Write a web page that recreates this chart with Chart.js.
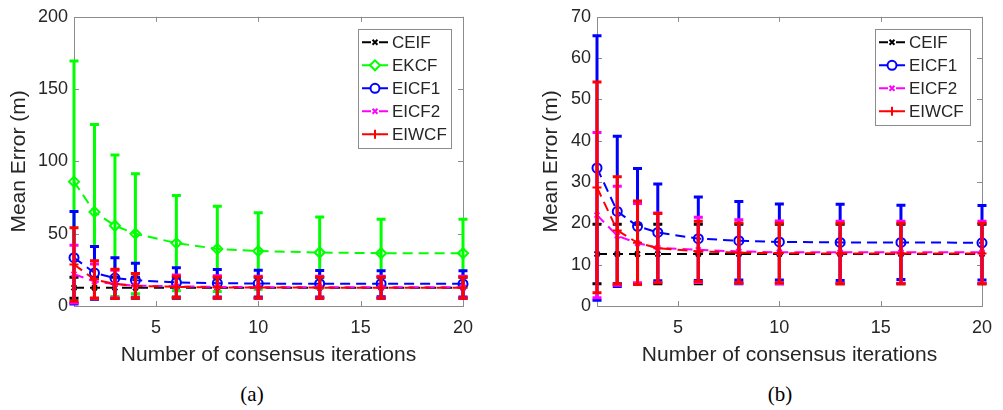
<!DOCTYPE html>
<html>
<head>
<meta charset="utf-8">
<script src="https://cdn.jsdelivr.net/npm/chart.js@4.4.0/dist/chart.umd.min.js"></script>
<style>
  html, body { margin: 0; padding: 0; background: #fff; }
  body { width: 1003px; height: 410px; position: relative; overflow: hidden; }
  .panel { position: absolute; top: 0; height: 375px; }
  #panel-a { left: 0; width: 500px; }
  #panel-b { left: 500px; width: 503px; }
  .caption {
    position: absolute; top: 382px; transform: translateX(-50%);
    font: 21px 'Liberation Serif', 'Times New Roman', serif; color: #000;
  }
</style>
</head>
<body>
<div class="panel" id="panel-a"><canvas id="chart-a"></canvas></div>
<div class="panel" id="panel-b"><canvas id="chart-b"></canvas></div>
<div class="caption" style="left:252px">(a)</div>
<div class="caption" style="left:780px">(b)</div>
<script>
const iterations = [1, 2, 3, 4, 6, 8, 10, 13, 16, 20];
const xTicks = [5, 10, 15, 20];
const yTicksA = [0, 50, 100, 150, 200];
const yTicksB = [0, 10, 20, 30, 40, 50, 60, 70];

// mean error and error-bar half length, per method
const ceifMean = [12.6, 12.6, 12.6, 12.6, 12.6, 12.6, 12.6, 12.6, 12.6, 12.6];
const ceifErr = [7.2, 7.2, 7.2, 7.2, 7.2, 7.2, 7.2, 7.2, 7.2, 7.2];
const ekcfMean = [86, 65, 55.5, 50, 43.5, 39.5, 38, 37, 36.5, 36.5];
const ekcfErr = [83.5, 60.5, 49, 41.5, 33, 29.5, 26.5, 24.5, 23.5, 23.5];
const eicf1Mean = [33.4, 22.9, 19.3, 17.8, 16.3, 15.8, 15.5, 15.4, 15.4, 15.3];
const eicf1Err = [32, 18.2, 14, 11.7, 10.1, 9.5, 9.2, 9.2, 9.0, 9.0];
const eicf2Mean = [22, 17, 15.2, 14.1, 13.6, 13.2, 13.0, 13.0, 13.0, 13.0];
const eicf2Err = [20, 12, 9.6, 8.4, 7.9, 7.7, 7.6, 7.5, 7.5, 7.5];
const eiwcfMean = [28.7, 18.3, 15.3, 14.0, 13.2, 12.9, 12.8, 12.7, 12.7, 12.7];
const eiwcfErr = [25.5, 13, 10.1, 8.4, 7.3, 7.2, 7.2, 7.3, 7.3, 7.3];

const FONT = "'Liberation Sans', Arial, sans-serif";
const TEXT = '#262626';
const FRAME = '#8c8c8c';

const STYLE = {
  CEIF: { color: '#000000', marker: 'crossRot', radius: 3.5 },
  EKCF: { color: '#00ff00', marker: 'rectRot', radius: 5 },
  EICF1: { color: '#0000ff', marker: 'circle', radius: 4.5 },
  EICF2: { color: '#ff00ff', marker: 'crossRot', radius: 3.5 },
  EIWCF: { color: '#ff0000', marker: 'cross', radius: 4.5 },
};

function makeDataset(label, means, errs, idx, count) {
  const s = STYLE[label];
  return {
    label,
    data: iterations.map((x, i) => ({ x, y: means[i] })),
    errors: errs,
    borderColor: s.color,
    backgroundColor: 'transparent',
    borderWidth: 2,
    borderDash: [10, 6],
    pointStyle: s.marker,
    pointRadius: s.radius,
    pointBorderWidth: 2,
    pointBorderColor: s.color,
    pointBackgroundColor: 'transparent',
    tension: 0,
    clip: false,
    order: count - idx, // later series on top, like the original
  };
}

// vertical error bars with caps, drawn just before each dataset's line
const errorBars = {
  id: 'errorBars',
  beforeDatasetDraw(chart, args) {
    const ds = chart.data.datasets[args.index];
    const xs = chart.scales.x;
    const ys = chart.scales.y;
    const ctx = chart.ctx;
    ctx.save();
    ctx.strokeStyle = ds.borderColor;
    ctx.lineWidth = 3;
    ctx.setLineDash([]);
    ds.data.forEach((p, i) => {
      const px = xs.getPixelForValue(p.x);
      const top = ys.getPixelForValue(p.y + ds.errors[i]);
      const bot = ys.getPixelForValue(p.y - ds.errors[i]);
      ctx.beginPath();
      ctx.moveTo(px, top); ctx.lineTo(px, bot);
      ctx.moveTo(px - 4.5, top); ctx.lineTo(px + 4.5, top);
      ctx.moveTo(px - 4.5, bot); ctx.lineTo(px + 4.5, bot);
      ctx.stroke();
    });
    ctx.restore();
  },
};

// box around the axes with inward ticks on all four sides
const axesBox = {
  id: 'axesBox',
  beforeDatasetsDraw(chart) {
    const { ctx, chartArea: a } = chart;
    const xs = chart.scales.x;
    const ys = chart.scales.y;
    const len = 5;
    ctx.save();
    ctx.strokeStyle = FRAME;
    ctx.lineWidth = 1;
    ctx.strokeRect(Math.round(a.left) + 0.5, Math.round(a.top) + 0.5,
      Math.round(a.right - a.left), Math.round(a.bottom - a.top));
    ctx.beginPath();
    for (const t of xs.ticks) {
      const px = Math.round(xs.getPixelForValue(t.value)) + 0.5;
      ctx.moveTo(px, a.bottom); ctx.lineTo(px, a.bottom - len);
      ctx.moveTo(px, a.top); ctx.lineTo(px, a.top + len);
    }
    for (const t of ys.ticks) {
      const py = Math.round(ys.getPixelForValue(t.value)) + 0.5;
      ctx.moveTo(a.left, py); ctx.lineTo(a.left + len, py);
      ctx.moveTo(a.right, py); ctx.lineTo(a.right - len, py);
    }
    ctx.stroke();
    ctx.restore();
  },
};

// MATLAB-style legend box in the top right corner
const boxLegend = {
  id: 'boxLegend',
  afterDraw(chart, args, opts) {
    const ctx = chart.ctx;
    const sets = chart.data.datasets;
    const left = chart.chartArea.right - opts.inset - opts.width;
    const top = chart.chartArea.top + opts.inset;
    const h = opts.pad * 2 + sets.length * opts.rowHeight;
    ctx.save();
    ctx.fillStyle = '#fff';
    ctx.fillRect(left, top, opts.width, h);
    ctx.strokeStyle = FRAME;
    ctx.lineWidth = 1;
    ctx.strokeRect(Math.round(left) + 0.5, Math.round(top) + 0.5, opts.width, h);
    ctx.font = `17px ${FONT}`;
    ctx.textBaseline = 'middle';
    sets.forEach((ds, i) => {
      const y = top + opts.pad + (i + 0.5) * opts.rowHeight;
      const x0 = left + 4;
      const x1 = x0 + opts.sample;
      ctx.strokeStyle = ds.borderColor;
      ctx.lineWidth = 2;
      ctx.setLineDash([9, opts.sample - 18]);
      ctx.beginPath(); ctx.moveTo(x0, y); ctx.lineTo(x1, y); ctx.stroke();
      ctx.setLineDash([]);
      ctx.fillStyle = 'rgba(0,0,0,0)';
      Chart.helpers.drawPoint(ctx, { pointStyle: ds.pointStyle, radius: ds.pointRadius, borderWidth: 2, rotation: 0 }, (x0 + x1) / 2, y);
      ctx.fillStyle = TEXT;
      ctx.fillText(ds.label, x1 + 4, y + 1);
    });
    ctx.restore();
  },
};

function buildChart(canvasId, datasets, cfg) {
  return new Chart(document.getElementById(canvasId), {
    type: 'line',
    data: { datasets },
    plugins: [axesBox, errorBars, boxLegend],
    options: {
      responsive: true,
      maintainAspectRatio: false,
      animation: false,
      events: [],
      layout: { padding: { left: 0, right: cfg.padRight, top: 15, bottom: 0 } },
      plugins: {
        legend: { display: false },
        tooltip: { enabled: false },
        boxLegend: { inset: 12, width: cfg.legendWidth, pad: 2, rowHeight: 23, sample: 26 },
      },
      scales: {
        x: {
          type: 'linear', min: 1, max: 20,
          afterBuildTicks: s => { s.ticks = xTicks.map(v => ({ value: v })); },
          afterFit: s => { s.height = 69; },
          grid: { display: false, drawTicks: false },
          border: { display: false },
          ticks: { padding: 11, color: TEXT, font: { family: FONT, size: 18 } },
          title: {
            display: true, text: 'Number of consensus iterations', color: TEXT,
            font: { family: FONT, size: 21 }, padding: { top: 0, bottom: 7 },
          },
        },
        y: {
          type: 'linear', min: 0, max: cfg.yMax,
          afterBuildTicks: s => { s.ticks = cfg.yTicks.map(v => ({ value: v })); },
          afterFit: s => { s.width = cfg.yWidth; },
          grid: { display: false, drawTicks: false },
          border: { display: false },
          ticks: { padding: 6, color: TEXT, font: { family: FONT, size: 18 } },
          title: {
            display: true, text: 'Mean Error (m)', color: TEXT,
            font: { family: FONT, size: 21 }, padding: { top: cfg.titlePad, bottom: 0 },
          },
        },
      },
    },
  });
}

buildChart('chart-a', [
  makeDataset('CEIF', ceifMean, ceifErr, 0, 5),
  makeDataset('EKCF', ekcfMean, ekcfErr, 1, 5),
  makeDataset('EICF1', eicf1Mean, eicf1Err, 2, 5),
  makeDataset('EICF2', eicf2Mean, eicf2Err, 3, 5),
  makeDataset('EIWCF', eiwcfMean, eiwcfErr, 4, 5),
], { yMax: 200, yTicks: yTicksA, yWidth: 74, padRight: 37, titlePad: 7, legendWidth: 93 });

buildChart('chart-b', [
  makeDataset('CEIF', ceifMean, ceifErr, 0, 4),
  makeDataset('EICF1', eicf1Mean, eicf1Err, 1, 4),
  makeDataset('EICF2', eicf2Mean, eicf2Err, 2, 4),
  makeDataset('EIWCF', eiwcfMean, eiwcfErr, 3, 4),
], { yMax: 70, yTicks: yTicksB, yWidth: 97, padRight: 14, titlePad: 39, legendWidth: 95 });
</script>
</body>
</html>
